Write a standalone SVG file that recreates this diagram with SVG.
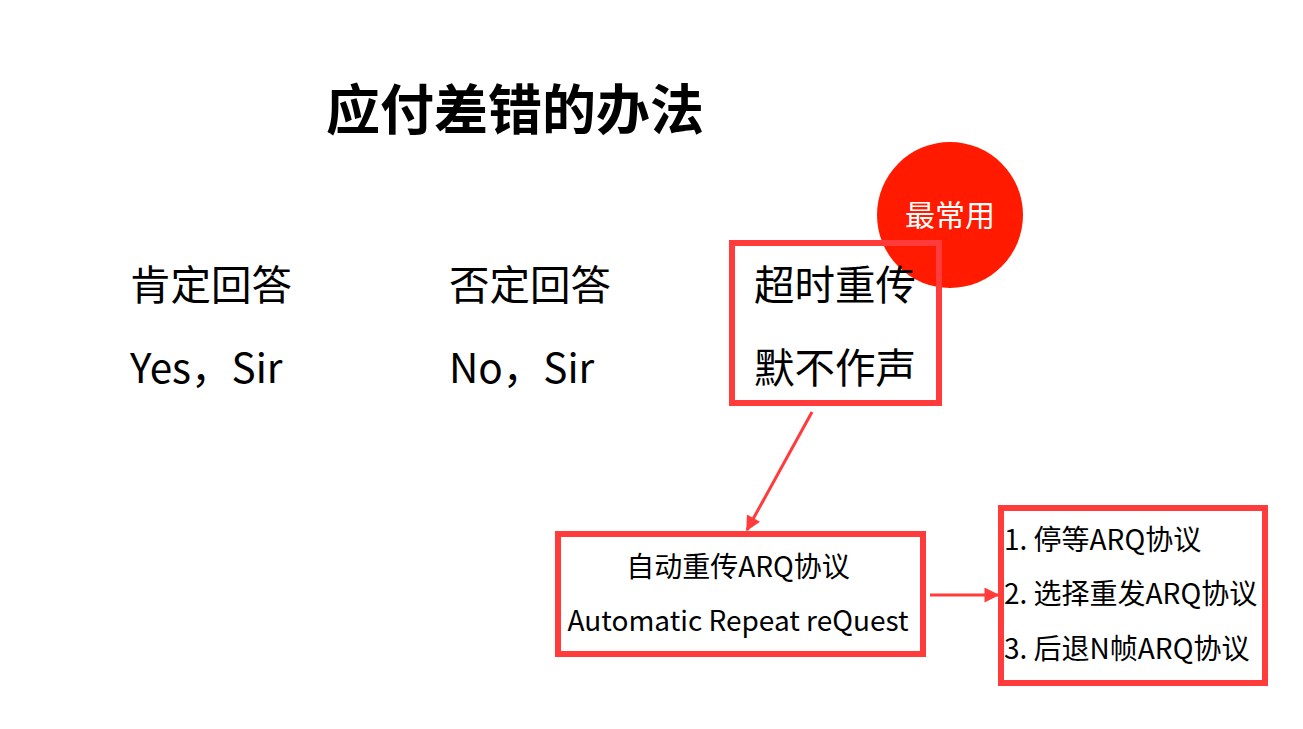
<svg xmlns="http://www.w3.org/2000/svg" width="1303" height="729" viewBox="0 0 1303 729">
<defs>
<style>
.t{font-family:"Noto Sans CJK SC","Noto Sans",sans-serif;fill:#000}
.big{font-size:40.5px}
.mid{font-size:28px}
.box{fill:none;stroke:#FF3B3B;stroke-width:6}
.conn{stroke:#FF3B3B;stroke-width:3;fill:none}
</style>
<marker id="ah" viewBox="0 0 10 10" refX="9" refY="5" markerWidth="5.5" markerHeight="5" orient="auto" markerUnits="strokeWidth">
<path d="M0,0 L10,5 L0,10 z" fill="#FF3B3B"/>
</marker>
</defs>
<rect width="1303" height="729" fill="#fff"/>
<g id="title"><text class="t" x="326" y="130" font-size="54" font-weight="bold">应付差错的办法</text></g>
<g id="badge">
<circle cx="950" cy="215" r="73" fill="#FF1A00"/>
<text class="t" x="950" y="226" font-size="30" style="fill:#fff" text-anchor="middle">最常用</text>
</g>
<g id="positive">
<text class="t big" x="130" y="300">肯定回答</text>
<text class="t big" x="130" y="383">Yes，Sir</text>
</g>
<g id="negative">
<text class="t big" x="449" y="300">否定回答</text>
<text class="t big" x="449" y="383">No，Sir</text>
</g>
<g id="timeout">
<rect class="box" x="732" y="243" width="207" height="160"/>
<text class="t big" x="754" y="300">超时重传</text>
<text class="t big" x="754" y="383">默不作声</text>
</g>
<g id="arq">
<rect class="box" x="558" y="534" width="365" height="120"/>
<text class="t mid" x="738" y="577" text-anchor="middle">自动重传ARQ协议</text>
<text class="t mid" x="738" y="631" text-anchor="middle">Automatic Repeat reQuest</text>
</g>
<g id="protocols">
<rect class="box" x="1001" y="508" width="264" height="175"/>
<text class="t mid" x="1004" y="550">1. 停等ARQ协议</text>
<text class="t mid" x="1004" y="604">2. 选择重发ARQ协议</text>
<text class="t mid" x="1004" y="659">3. 后退N帧ARQ协议</text>
</g>
<g id="connectors">
<line class="conn" x1="812" y1="412" x2="747" y2="530" marker-end="url(#ah)"/>
<line class="conn" x1="930" y1="595" x2="998" y2="595" marker-end="url(#ah)"/>
</g>
</svg>
